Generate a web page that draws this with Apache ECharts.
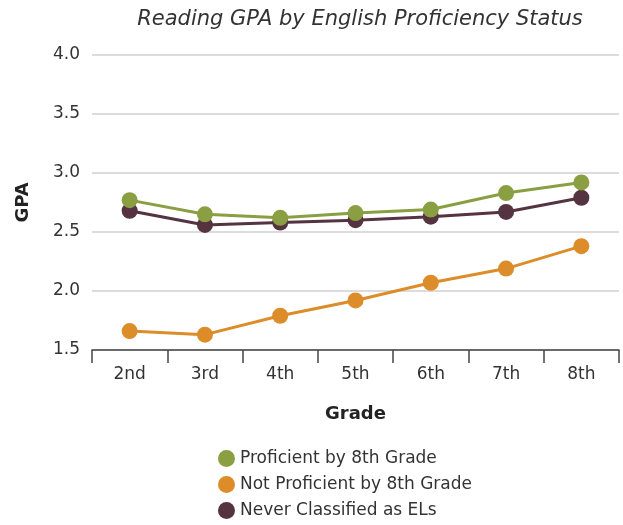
<!DOCTYPE html>
<html>
<head>
<meta charset="utf-8">
<script src="https://cdn.jsdelivr.net/npm/echarts@6/dist/echarts.min.js"></script>
<style>
  html, body { margin: 0; padding: 0; background: #fff; }
  #chart { width: 623px; height: 525px; }
</style>
</head>
<body>
<div id="chart"></div>
<script>
var grades = ['2nd', '3rd', '4th', '5th', '6th', '7th', '8th'];
var proficient = [2.77, 2.65, 2.62, 2.66, 2.69, 2.83, 2.92];
var notProficient = [1.66, 1.63, 1.79, 1.92, 2.07, 2.19, 2.38];
var neverEL = [2.68, 2.56, 2.58, 2.60, 2.63, 2.67, 2.79];

var font = 'DejaVu Sans';
var myChart = echarts.init(document.getElementById('chart'));

function lineSeries(name, data, color, z) {
  return {
    name: name,
    type: 'line',
    data: data,
    z: z,
    symbol: 'circle',
    symbolSize: 16,
    lineStyle: { width: 3, color: color },
    itemStyle: { color: color },
    emphasis: { disabled: true }
  };
}

var option = {
  animation: false,
  textStyle: { fontFamily: font },
  title: {
    text: 'Reading GPA by English Proficiency Status',
    left: 355,
    textAlign: 'center',
    top: 4,
    textStyle: { fontFamily: font, fontStyle: 'italic', fontWeight: 'normal', fontSize: 21, color: '#333' }
  },
  legend: {
    orient: 'vertical',
    left: 213,
    top: 445,
    height: 80,
    itemGap: 9,
    itemWidth: 17,
    itemHeight: 17,
    icon: 'circle',
    data: ['Proficient by 8th Grade', 'Not Proficient by 8th Grade', 'Never Classified as ELs'],
    textStyle: { fontFamily: font, fontSize: 17, color: '#333' }
  },
  grid: { left: 92, right: 4, top: 55, bottom: 175 },
  xAxis: {
    type: 'category',
    data: grades,
    boundaryGap: true,
    name: 'Grade',
    nameLocation: 'middle',
    nameGap: 55,
    nameTextStyle: { fontFamily: font, fontWeight: 'bold', fontSize: 18, color: '#222' },
    axisLine: { lineStyle: { color: '#444', width: 1.5 } },
    axisTick: { show: true, length: 13, lineStyle: { color: '#444', width: 1.5 } },
    axisLabel: { fontFamily: font, fontSize: 17, color: '#333', margin: 16 }
  },
  yAxis: {
    type: 'value',
    min: 1.5,
    max: 4.0,
    interval: 0.5,
    name: 'GPA',
    nameLocation: 'middle',
    nameGap: 60,
    nameTextStyle: { fontFamily: font, fontWeight: 'bold', fontSize: 18, color: '#222' },
    axisLine: { show: false },
    axisTick: { show: false },
    axisLabel: { fontFamily: font, fontSize: 17, color: '#333', margin: 12, formatter: function (v) { return v.toFixed(1); } },
    splitLine: { lineStyle: { color: '#d0d0d0', width: 1.5 } }
  },
  series: [
    lineSeries('Never Classified as ELs', neverEL, '#553340', 2),
    lineSeries('Not Proficient by 8th Grade', notProficient, '#dc8c28', 3),
    lineSeries('Proficient by 8th Grade', proficient, '#8a9e42', 4)
  ]
};

myChart.setOption(option);
</script>
</body>
</html>
